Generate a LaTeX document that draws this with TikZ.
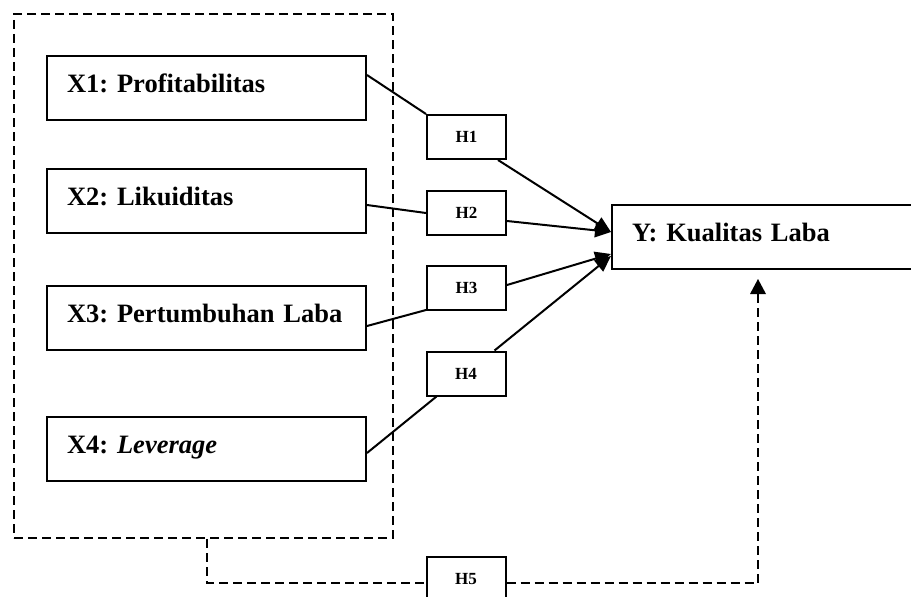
\documentclass[tikz,border=0pt]{standalone}
\usepackage{fontspec}
\setmainfont{Liberation Serif}
\usetikzlibrary{arrows.meta,calc}
\begin{document}
\frenchspacing
\begin{tikzpicture}[x=1pt,y=-1pt,
  lw/.style={line width=2pt},
  dsh/.style={lw,dash pattern=on 9pt off 5pt},
  varbox/.style={lw,draw,rectangle,minimum height=64pt,inner xsep=20pt,inner ysep=0pt,
     text width=279pt,align=left,text height=13pt,text depth=5pt,
     font=\fontsize{26.5}{30}\selectfont\bfseries},
  hbox/.style={lw,draw,rectangle,fill=white,minimum width=79pt,minimum height=44pt,inner sep=0pt,
     text height=11.3pt,text depth=0pt,font=\fontsize{17}{20}\selectfont\bfseries},
  conn/.style={lw},
  arr/.style={lw,-{Triangle[length=16pt,width=14pt]}},
]
\useasboundingbox (0,0) rectangle (911,597);
% group
\node[dsh,draw,rectangle,minimum width=379pt,minimum height=524pt,inner sep=0pt] (grp) at (203.5,276) {};
% variables
\node[varbox] (X1) at (206.5,88) {X1: Profitabilitas};
\node[varbox] (X2) at (206.5,201) {X2: Likuiditas};
\node[varbox] (X3) at (206.5,318) {X3: Pertumbuhan Laba};
\node[varbox] (X4) at (206.5,449) {X4: \textit{Leverage}};
\node[varbox,minimum width=360pt,text width=320pt] (Y) at (792,237) {Y: Kualitas Laba};
% hypotheses
\node[hbox] (H1) at (466.5,137) {H1};
\node[hbox] (H2) at (466.5,213) {H2};
\node[hbox] (H3) at (466.5,288) {H3};
\node[hbox] (H4) at (466,373.5) {H4};
\node[hbox] (H5) at (466,579) {H5};
% connectors
\draw[conn] ([yshift=13pt]X1.east) -- (H1.north west);
\draw[arr] ([xshift=-9pt]H1.south east) -- ([yshift=5pt]Y.west);
\draw[conn] ([yshift=-4pt]X2.east) -- (H2.west);
\draw[arr] ([yshift=-8pt]H2.east) -- ([yshift=5pt]Y.west);
\draw[conn] ([yshift=-8pt]X3.east) -- ([yshift=1pt]H3.south west);
\draw[arr] ([yshift=3pt]H3.east) -- ([yshift=-17pt]Y.west);
\draw[conn] ([yshift=-4pt]X4.east) -- ([xshift=11pt]H4.south west);
\draw[arr] ([xshift=-12pt]H4.north east) -- ([yshift=-19pt]Y.west);
% H5 path
\coordinate (c1) at (207,583);
\coordinate (c2) at (758,583);
\draw[dsh] ([xshift=3.5pt]grp.south) -- (c1) -- (c1 -| H5.west);
\draw[dsh] (c2 -| H5.east) -- (c2) -- ([yshift=-16pt]c2 |- Y.south);
\fill ([yshift=-9pt]c2 |- Y.south) -- ++(-8,15) -- ++(16,0) -- cycle;
\end{tikzpicture}
\end{document}
